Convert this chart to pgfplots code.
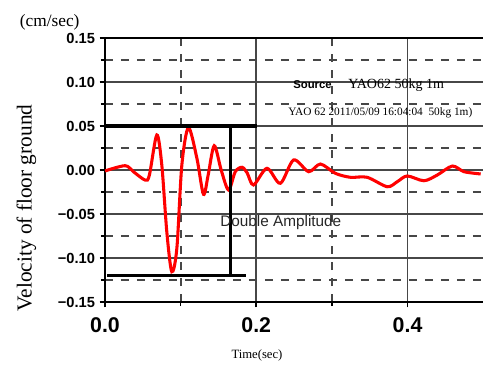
\documentclass[border=0pt]{standalone}
\usepackage{fontspec}
\setmainfont{Liberation Serif}
\newfontfamily\arial{Liberation Sans}
\usepackage{pgfplots}
\pgfplotsset{compat=1.18}
\begin{document}
\begin{tikzpicture}[x=1pt,y=1pt]
\path[use as bounding box] (-78.75,-47.25) rectangle (283.5,226.5);
\begin{axis}[
  at={(0,0)}, anchor=south west,
  scale only axis, width=284.5pt, height=198pt,
  xmin=0, xmax=0.5015, ymin=-0.15, ymax=0.15,
  xtick={0,0.2,0.4}, xticklabels={0.0,0.2,0.4},
  minor xtick={0.1,0.3},
  ytick={-0.15,-0.1,-0.05,0,0.05,0.1,0.15},
  yticklabels={−0.15,−0.10,−0.05,0.00,0.05,0.10,0.15},
  minor ytick={-0.125,-0.075,-0.025,0.025,0.075,0.125},
  grid=both,
  major grid style={draw=black!72, line width=1.4pt},
  minor grid style={draw=black!72, line width=1.4pt, dash pattern=on 6pt off 6pt},
  axis line style={line width=1.6pt, black},
  tick pos=left, tick align=outside,
  major tick length=4pt, minor tick length=3pt,
  tick style={line width=1.2pt, black},
  xticklabel style={font=\arial\bfseries\fontsize{16}{18}\selectfont, yshift=-4.5pt},
  yticklabel style={font=\arial\bfseries\fontsize{11}{13}\selectfont, xshift=0pt},
  /pgf/number format/assume math mode=true,
]
\addplot[red, line width=2.3pt, smooth, tension=0.5] coordinates {
(0,-0.0011) (0.0265,0.0049) (0.0375,-0.0019) (0.053,-0.0114) (0.0587,-0.0057)
(0.0685,0.0398) (0.0751,0.0057) (0.0817,-0.0701) (0.0883,-0.1156) (0.0950,-0.0890)
(0.1016,0.0057) (0.1103,0.0481) (0.1215,0.0133) (0.1302,-0.0276) (0.1364,-0.0057)
(0.1444,0.0276) (0.1536,0.0) (0.1633,-0.0227) (0.1722,-0.002) (0.1811,0.0031)
(0.188,-0.0034) (0.1964,-0.0170) (0.2142,0.0019) (0.2318,-0.0151) (0.2494,0.0114)
(0.2693,-0.0019) (0.2848,0.0068) (0.3046,-0.0038) (0.3245,-0.0083) (0.3466,-0.0083)
(0.3731,-0.0190) (0.3864,-0.0133) (0.3996,-0.0068) (0.4216,-0.0122) (0.4393,-0.0057)
(0.4592,0.0045) (0.4746,-0.0019) (0.4967,-0.0045)
};
\addplot[black, line width=2.4pt] coordinates {(0,0.05) (0.201,0.05)};
\addplot[black, line width=2.4pt] coordinates {(0.003,-0.12) (0.187,-0.12)};
\addplot[black, line width=2.4pt] coordinates {(0.1656,0.05) (0.1656,-0.12)};
\end{axis}
\node[font=\fontsize{13}{15}\selectfont] at (-41.5,210) {(cm/sec)};
\node[font=\fontsize{16}{18}\selectfont, rotate=90] at (-59,70.5) {Velocity of floor ground};
\node[font=\fontsize{9.5}{11}\selectfont] at (114,-39.75) {Time(sec)};
\node[font=\arial\bfseries\fontsize{8.5}{10}\selectfont, anchor=west, inner sep=0pt] at (141,162.75) {Source};
\node[font=\fontsize{10.5}{12}\selectfont, anchor=west, inner sep=0pt] at (182.25,162.75) {YAO62 50kg 1m};
\node[font=\fontsize{8.5}{10}\selectfont, anchor=west, inner sep=0pt] at (137.25,141.75) {YAO 62 2011/05/09 16:04:04\ \ 50kg 1m)};
\node[font=\arial\fontsize{11.5}{13}\selectfont, text=black!85, anchor=west, inner sep=0pt] at (86.25,59.25) {Double Amplitude};
\end{tikzpicture}
\end{document}
